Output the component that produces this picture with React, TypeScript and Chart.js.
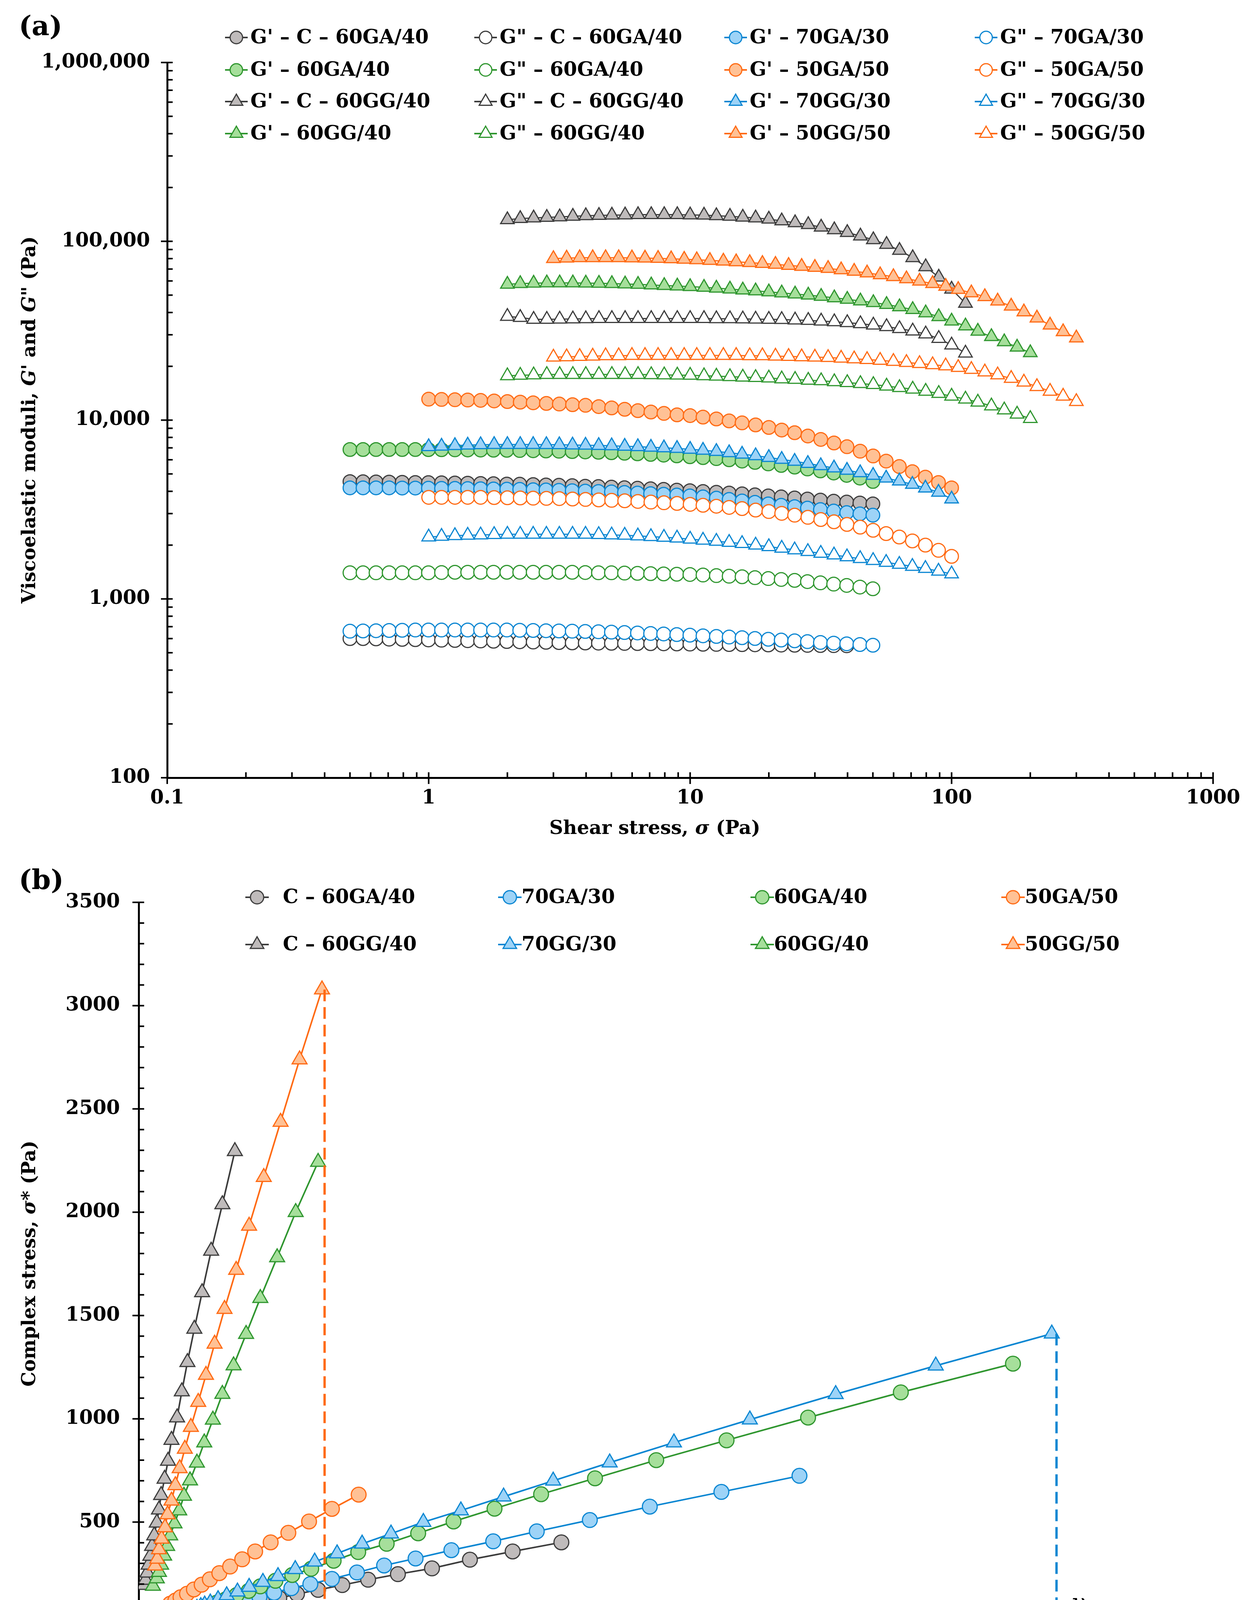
import React, { useEffect, useRef } from 'react';
import { Chart, registerables } from 'chart.js';

Chart.register(...registerables);

// ================= (a) Stress sweep: G' and G'' vs shear stress =================
const STRESS_05 = [0.5, 0.561, 0.629, 0.706, 0.792, 0.889, 0.998, 1.12, 1.26, 1.41, 1.58, 1.77, 1.99, 2.23, 2.51, 2.81, 3.15, 3.54, 3.97, 4.46, 5.0, 5.61, 6.29, 7.06, 7.92, 8.89, 9.98, 11.2, 12.6, 14.1, 15.8, 17.7, 19.9, 22.3, 25.1, 28.1, 31.5, 35.4, 39.7, 44.6, 50.0];
const STRESS_1 = [1, 1.12, 1.26, 1.41, 1.58, 1.78, 2.0, 2.24, 2.51, 2.82, 3.16, 3.55, 3.98, 4.47, 5.01, 5.62, 6.31, 7.08, 7.94, 8.91, 10, 11.2, 12.6, 14.1, 15.8, 17.8, 20.0, 22.4, 25.1, 28.2, 31.6, 35.5, 39.8, 44.7, 50.1, 56.2, 63.1, 70.8, 79.4, 89.1, 100];
const STRESS_2 = [2, 2.24, 2.52, 2.83, 3.17, 3.56, 3.99, 4.48, 5.02, 5.64, 6.32, 7.10, 7.96, 8.93, 10.0, 11.3, 12.6, 14.2, 15.9, 17.8, 20.0, 22.4, 25.2, 28.3, 31.7, 35.6, 39.9, 44.8, 50.2, 56.4, 63.2, 71.0, 79.6, 89.3, 100, 113, 126, 142, 159, 178, 200];
const STRESS_3 = [3, 3.37, 3.78, 4.24, 4.75, 5.33, 5.99, 6.72, 7.54, 8.46, 9.49, 10.6, 11.9, 13.4, 15.0, 16.9, 18.9, 21.2, 23.8, 26.7, 30.0, 33.7, 37.8, 42.4, 47.5, 53.3, 59.9, 67.2, 75.4, 84.6, 94.9, 106, 119, 134, 150, 169, 189, 212, 238, 267, 300];

const G1_C60GA40 = [4530, 4520, 4510, 4500, 4490, 4480, 4470, 4460, 4450, 4440, 4420, 4410, 4390, 4380, 4360, 4340, 4320, 4300, 4270, 4250, 4220, 4190, 4160, 4130, 4100, 4060, 4030, 3990, 3950, 3910, 3870, 3820, 3770, 3720, 3670, 3620, 3570, 3520, 3480, 3440, 3400];
const G2_C60GA40 = [600, 600, 598, 596, 594, 592, 590, 588, 586, 584, 582, 580, 578, 576, 574, 572, 570, 568, 567, 566, 565, 564, 563, 562, 561, 560, 559, 558, 557, 556, 555, 554, 553, 552, 551, 550, 549, 548, 547];
const G1_70GA30 = [4180, 4180, 4180, 4180, 4170, 4170, 4160, 4150, 4150, 4140, 4130, 4120, 4110, 4100, 4080, 4070, 4050, 4030, 4010, 3990, 3970, 3940, 3910, 3880, 3850, 3810, 3770, 3720, 3660, 3600, 3530, 3470, 3400, 3340, 3280, 3220, 3160, 3100, 3040, 2990, 2940];
const G2_70GA30 = [660, 662, 664, 666, 668, 670, 670, 670, 670, 670, 670, 670, 670, 668, 666, 664, 662, 660, 658, 655, 652, 649, 645, 641, 637, 632, 627, 622, 617, 612, 607, 601, 595, 589, 583, 577, 571, 566, 561, 556, 551];
const G1_60GA40 = [6850, 6850, 6850, 6850, 6850, 6850, 6840, 6830, 6820, 6810, 6800, 6790, 6780, 6760, 6740, 6720, 6700, 6670, 6640, 6610, 6570, 6530, 6480, 6430, 6370, 6310, 6240, 6170, 6090, 6000, 5900, 5800, 5690, 5580, 5460, 5330, 5200, 5060, 4910, 4740, 4540];
const G2_60GA40 = [1400, 1400, 1400, 1400, 1400, 1400, 1400, 1405, 1410, 1410, 1410, 1410, 1410, 1410, 1410, 1410, 1410, 1410, 1405, 1400, 1400, 1395, 1390, 1385, 1380, 1375, 1370, 1360, 1350, 1340, 1330, 1315, 1300, 1285, 1270, 1250, 1230, 1210, 1190, 1165, 1140];
const G1_50GA50 = [13100, 13050, 13000, 12950, 12900, 12800, 12700, 12600, 12500, 12400, 12300, 12200, 12100, 11900, 11700, 11500, 11300, 11100, 10900, 10700, 10600, 10400, 10150, 9900, 9650, 9400, 9100, 8800, 8500, 8150, 7800, 7450, 7100, 6700, 6300, 5900, 5500, 5150, 4800, 4480, 4180];
const G2_50GA50 = [3700, 3700, 3700, 3700, 3700, 3690, 3680, 3670, 3660, 3650, 3640, 3620, 3600, 3580, 3560, 3540, 3510, 3480, 3450, 3420, 3380, 3340, 3300, 3250, 3200, 3140, 3080, 3010, 2940, 2860, 2780, 2700, 2610, 2520, 2420, 2320, 2220, 2110, 2000, 1870, 1730];
const G1_C60GG40 = [132000, 134000, 135000, 136000, 137000, 138000, 139000, 139500, 140000, 140500, 141000, 141000, 141000, 141000, 140500, 140000, 139000, 138000, 136500, 135000, 133000, 130000, 127000, 124000, 120000, 116000, 112000, 107000, 102000, 96000, 89000, 81000, 72000, 63000, 54000, 45000];
const G2_C60GG40 = [38000, 37500, 36600, 36600, 36700, 36800, 36900, 37000, 37000, 37000, 37000, 37000, 37000, 37000, 37000, 37000, 36900, 36900, 36800, 36700, 36600, 36500, 36300, 36100, 35800, 35500, 35100, 34600, 34000, 33300, 32500, 31500, 30300, 28600, 26300, 23700];
const G1_70GG30 = [7100, 7150, 7200, 7250, 7280, 7300, 7300, 7300, 7300, 7290, 7280, 7260, 7240, 7210, 7180, 7140, 7100, 7050, 7000, 6940, 6870, 6780, 6680, 6570, 6450, 6320, 6180, 6030, 5880, 5720, 5560, 5400, 5240, 5080, 4910, 4740, 4560, 4370, 4170, 3950, 3620];
const G2_70GG30 = [2220, 2240, 2260, 2270, 2280, 2290, 2300, 2300, 2300, 2300, 2300, 2300, 2300, 2290, 2280, 2270, 2250, 2230, 2210, 2190, 2160, 2130, 2100, 2070, 2040, 2000, 1960, 1920, 1880, 1840, 1800, 1760, 1720, 1680, 1640, 1600, 1560, 1520, 1480, 1430, 1380];
const G1_60GG40 = [57500, 58000, 58300, 58500, 58500, 58500, 58400, 58200, 58000, 57700, 57400, 57000, 56600, 56200, 55800, 55300, 54700, 54100, 53400, 52800, 52100, 51400, 50700, 50000, 49200, 48300, 47400, 46400, 45400, 44300, 43000, 41500, 39800, 37900, 35800, 33600, 31400, 29300, 27400, 25600, 23800];
const G2_60GG40 = [17700, 17800, 17900, 18000, 18000, 18000, 18000, 18000, 18000, 18000, 18000, 17950, 17900, 17850, 17800, 17700, 17600, 17500, 17400, 17300, 17200, 17000, 16900, 16700, 16600, 16400, 16200, 16000, 15800, 15500, 15200, 14900, 14500, 14100, 13600, 13100, 12600, 12000, 11400, 10800, 10200];
const G1_50GG50 = [80000, 80500, 81000, 81000, 81000, 81000, 80800, 80500, 80200, 79800, 79300, 78800, 78200, 77500, 76800, 76000, 75200, 74300, 73300, 72400, 71500, 70500, 69300, 68000, 66500, 65000, 63400, 61700, 59900, 58000, 56000, 53800, 51500, 49000, 46300, 43400, 40300, 37200, 34000, 31200, 28800];
const G2_50GG50 = [22500, 22600, 22700, 22800, 22900, 22900, 23000, 23000, 23000, 23000, 23000, 23000, 23000, 23000, 23000, 22900, 22900, 22800, 22700, 22600, 22500, 22400, 22200, 22000, 21800, 21600, 21300, 21000, 20700, 20400, 20100, 19700, 19200, 18600, 17900, 17100, 16300, 15400, 14500, 13600, 12700];

const A_X_TICKS = [0.1, 1, 10, 100, 1000];
const A_X_LABELS = ['0.1', '1', '10', '100', '1000'];
const A_Y_TICKS = [100, 1000, 10000, 100000, 1000000];
const A_Y_LABELS = ['100', '1,000', '10,000', '100,000', '1,000,000'];

// ================= (b) Complex stress vs strain =================
const STRAIN_C60GA40 = [0.0107, 0.0121, 0.0137, 0.0156, 0.0176, 0.0199, 0.0225, 0.0255, 0.0287, 0.0326, 0.0367, 0.0416, 0.0472, 0.0532, 0.0601, 0.0680, 0.0768, 0.0867, 0.0980];
const SIGMA_C60GA40 = [27, 34, 40, 49, 59, 72, 84, 100, 113, 132, 152, 172, 195, 221, 248, 276, 318, 358, 402];
const STRAIN_70GA30 = [0.0098, 0.0112, 0.0128, 0.0144, 0.0160, 0.0179, 0.0199, 0.0222, 0.0248, 0.0280, 0.0314, 0.0354, 0.0398, 0.0448, 0.0506, 0.0569, 0.0642, 0.0725, 0.0822, 0.0923, 0.1046, 0.1185, 0.1351, 0.1532];
const SIGMA_70GA30 = [28, 37, 47, 56, 66, 79, 91, 104, 120, 137, 158, 180, 200, 225, 256, 290, 324, 364, 407, 455, 510, 575, 646, 724];
const STRAIN_60GA40 = [0.0072, 0.0089, 0.0107, 0.0126, 0.0144, 0.0162, 0.0181, 0.0202, 0.0227, 0.0255, 0.0282, 0.0317, 0.0356, 0.0400, 0.0452, 0.0509, 0.0575, 0.0648, 0.0730, 0.0825, 0.0933, 0.1058, 0.1200, 0.1363, 0.1552, 0.1767, 0.2027];
const SIGMA_60GA40 = [46, 50, 56, 66, 78, 92, 110, 126, 147, 167, 189, 216, 244, 274, 313, 355, 395, 446, 503, 565, 635, 712, 800, 896, 1006, 1128, 1267];
const STRAIN_50GA50 = [0.0073, 0.0085, 0.0097, 0.0112, 0.0128, 0.0146, 0.0165, 0.0187, 0.0212, 0.0240, 0.0270, 0.0306, 0.0347, 0.0395, 0.0448, 0.0510];
const SIGMA_50GA50 = [105, 120, 136, 153, 174, 197, 223, 253, 285, 320, 358, 402, 448, 503, 564, 633];
const STRAIN_C60GG40 = [0.0012, 0.0016, 0.0020, 0.0023, 0.0027, 0.0031, 0.0036, 0.0042, 0.0047, 0.0052, 0.0060, 0.0068, 0.0076, 0.0089, 0.0100, 0.0113, 0.0129, 0.0147, 0.0168, 0.0194, 0.0223];
const SIGMA_C60GG40 = [195, 220, 255, 293, 336, 384, 435, 497, 560, 630, 709, 796, 897, 1006, 1132, 1274, 1435, 1612, 1813, 2038, 2295];
const STRAIN_70GG30 = [0.0135, 0.0144, 0.0153, 0.0166, 0.0184, 0.0204, 0.0229, 0.0256, 0.0288, 0.0323, 0.0363, 0.0408, 0.0460, 0.0518, 0.0585, 0.0660, 0.0747, 0.0846, 0.0961, 0.1092, 0.1241, 0.1417, 0.1616, 0.1848, 0.2117];
const SIGMA_70GG30 = [84, 92, 100, 110, 126, 145, 163, 186, 210, 238, 272, 308, 348, 395, 444, 500, 556, 623, 700, 788, 885, 996, 1119, 1257, 1412];
const STRAIN_60GG40 = [0.0033, 0.0042, 0.0047, 0.0052, 0.0059, 0.0066, 0.0073, 0.0083, 0.0094, 0.0105, 0.0119, 0.0135, 0.0152, 0.0172, 0.0194, 0.0220, 0.0249, 0.0282, 0.0321, 0.0364, 0.0416];
const SIGMA_60GG40 = [191, 227, 258, 293, 337, 384, 435, 493, 556, 627, 701, 787, 885, 995, 1120, 1258, 1410, 1584, 1781, 2000, 2243];
const STRAIN_50GG50 = [0.0038, 0.0043, 0.0047, 0.0053, 0.0061, 0.0067, 0.0076, 0.0085, 0.0095, 0.0107, 0.0121, 0.0138, 0.0156, 0.0176, 0.0199, 0.0226, 0.0256, 0.0290, 0.0329, 0.0373, 0.0425];
const SIGMA_50GG50 = [289, 322, 368, 419, 474, 537, 603, 678, 760, 854, 960, 1081, 1212, 1363, 1531, 1720, 1934, 2170, 2437, 2739, 3078];

// yield markers (dashed drop lines): strain, top stress
const YIELD_STRAIN = [0.0431, 0.2128];
const YIELD_TOP = [3078, 1412];

const B_X_TICKS = [0, 0.05, 0.1, 0.15, 0.2, 0.25];
const B_Y_TICKS = [0, 500, 1000, 1500, 2000, 2500, 3000, 3500];

// ================= styling =================
const SERIF = '"DejaVu Serif"';
const GRAY = { line: '#3c3c3c', fill: '#bfbbbb' };
const BLUE = { line: '#0a86d2', fill: '#9dd3f7' };
const GREEN = { line: '#2f962f', fill: '#a6df9b' };
const ORANGE = { line: '#ff6a13', fill: '#ffc195' };

const A_SERIES = [
  { label: "G' – C – 60GA/40", x: STRESS_05, y: G1_C60GA40, c: GRAY, shape: 'circle', open: false },
  { label: 'G" – C – 60GA/40', x: STRESS_05, y: G2_C60GA40, c: GRAY, shape: 'circle', open: true },
  { label: "G' – 70GA/30", x: STRESS_05, y: G1_70GA30, c: BLUE, shape: 'circle', open: false },
  { label: 'G" – 70GA/30', x: STRESS_05, y: G2_70GA30, c: BLUE, shape: 'circle', open: true },
  { label: "G' – 60GA/40", x: STRESS_05, y: G1_60GA40, c: GREEN, shape: 'circle', open: false },
  { label: 'G" – 60GA/40', x: STRESS_05, y: G2_60GA40, c: GREEN, shape: 'circle', open: true },
  { label: "G' – 50GA/50", x: STRESS_1, y: G1_50GA50, c: ORANGE, shape: 'circle', open: false },
  { label: 'G" – 50GA/50', x: STRESS_1, y: G2_50GA50, c: ORANGE, shape: 'circle', open: true },
  { label: "G' – C – 60GG/40", x: STRESS_2, y: G1_C60GG40, c: GRAY, shape: 'triangle', open: false },
  { label: 'G" – C – 60GG/40', x: STRESS_2, y: G2_C60GG40, c: GRAY, shape: 'triangle', open: true },
  { label: "G' – 70GG/30", x: STRESS_1, y: G1_70GG30, c: BLUE, shape: 'triangle', open: false },
  { label: 'G" – 70GG/30', x: STRESS_1, y: G2_70GG30, c: BLUE, shape: 'triangle', open: true },
  { label: "G' – 60GG/40", x: STRESS_2, y: G1_60GG40, c: GREEN, shape: 'triangle', open: false },
  { label: 'G" – 60GG/40', x: STRESS_2, y: G2_60GG40, c: GREEN, shape: 'triangle', open: true },
  { label: "G' – 50GG/50", x: STRESS_3, y: G1_50GG50, c: ORANGE, shape: 'triangle', open: false },
  { label: 'G" – 50GG/50', x: STRESS_3, y: G2_50GG50, c: ORANGE, shape: 'triangle', open: true },
];

const B_SERIES = [
  { label: 'C – 60GA/40', x: STRAIN_C60GA40, y: SIGMA_C60GA40, c: GRAY, shape: 'circle' },
  { label: '70GA/30', x: STRAIN_70GA30, y: SIGMA_70GA30, c: BLUE, shape: 'circle' },
  { label: '60GA/40', x: STRAIN_60GA40, y: SIGMA_60GA40, c: GREEN, shape: 'circle' },
  { label: '50GA/50', x: STRAIN_50GA50, y: SIGMA_50GA50, c: ORANGE, shape: 'circle' },
  { label: 'C – 60GG/40', x: STRAIN_C60GG40, y: SIGMA_C60GG40, c: GRAY, shape: 'triangle' },
  { label: '70GG/30', x: STRAIN_70GG30, y: SIGMA_70GG30, c: BLUE, shape: 'triangle' },
  { label: '60GG/40', x: STRAIN_60GG40, y: SIGMA_60GG40, c: GREEN, shape: 'triangle' },
  { label: '50GG/50', x: STRAIN_50GG50, y: SIGMA_50GG50, c: ORANGE, shape: 'triangle' },
];
const YIELD_COLORS = [ORANGE.line, BLUE.line];

// layout (canvas px)
const W = 3197;
const A_H = 2180;
const B_H = 2211;
const TICK_FONT = { family: 'DejaVu Serif', size: 50, weight: 'bold' };
const TITLE_SIZE = 49;

// ================= drawing helpers =================
function drawMarker(ctx, shape, x, y, r, fill, stroke, bw) {
  ctx.beginPath();
  if (shape === 'circle') {
    ctx.arc(x, y, r, 0, Math.PI * 2);
  } else {
    for (let k = 0; k < 3; k++) {
      const a = (k * 2 * Math.PI) / 3;
      const px = x + Math.sin(a) * r;
      const py = y - Math.cos(a) * r;
      if (k === 0) ctx.moveTo(px, py);
      else ctx.lineTo(px, py);
    }
    ctx.closePath();
  }
  ctx.fillStyle = fill;
  ctx.fill();
  ctx.lineWidth = bw;
  ctx.strokeStyle = stroke;
  ctx.stroke();
}

function drawRich(ctx, parts, x, y, size, rotate) {
  ctx.save();
  ctx.translate(x, y);
  if (rotate) ctx.rotate(-Math.PI / 2);
  ctx.textBaseline = 'middle';
  ctx.textAlign = 'left';
  ctx.fillStyle = '#000';
  const fonts = parts.map((p) => `${p.i ? 'italic ' : ''}bold ${size}px ${SERIF}`);
  const widths = parts.map((p, k) => {
    ctx.font = fonts[k];
    return ctx.measureText(p.t).width;
  });
  const total = widths.reduce((s, w) => s + w, 0);
  let cx = -total / 2;
  parts.forEach((p, k) => {
    ctx.font = fonts[k];
    ctx.fillText(p.t, cx, 0);
    cx += widths[k];
  });
  ctx.restore();
}

function drawAxisTicks(chart, xMajor, xMinor, yMajor, yMinor) {
  const { ctx, chartArea: a, scales } = chart;
  const L = 14;
  ctx.save();
  ctx.strokeStyle = '#000';
  ctx.lineWidth = 4;
  ctx.beginPath();
  xMajor.forEach((v) => {
    const p = scales.x.getPixelForValue(v);
    ctx.moveTo(p, a.bottom + L + 2);
    ctx.lineTo(p, a.bottom - L);
  });
  xMinor.forEach((v) => {
    const p = scales.x.getPixelForValue(v);
    ctx.moveTo(p, a.bottom);
    ctx.lineTo(p, a.bottom - L);
  });
  yMajor.forEach((v) => {
    const p = scales.y.getPixelForValue(v);
    ctx.moveTo(a.left - L - 2, p);
    ctx.lineTo(a.left + L, p);
  });
  yMinor.forEach((v) => {
    const p = scales.y.getPixelForValue(v);
    ctx.moveTo(a.left, p);
    ctx.lineTo(a.left + L, p);
  });
  ctx.stroke();
  ctx.restore();
}

function drawLegendItem(ctx, s, cx, cy, half, textX, r, open, fontSize) {
  ctx.save();
  ctx.strokeStyle = s.c.line;
  ctx.lineWidth = 4;
  ctx.beginPath();
  ctx.moveTo(cx - half, cy);
  ctx.lineTo(cx + half, cy);
  ctx.stroke();
  drawMarker(ctx, s.shape, cx, cy, r, open ? '#ffffff' : s.c.fill, s.c.line, 3);
  ctx.fillStyle = '#000';
  ctx.font = `bold ${fontSize}px ${SERIF}`;
  ctx.textBaseline = 'middle';
  ctx.textAlign = 'left';
  ctx.fillText(s.label, textX, cy + 2);
  ctx.restore();
}

// minor tick values
const A_X_MINOR: number[] = [];
[0.1, 1, 10, 100].forEach((d) => { for (let m = 2; m <= 9; m++) A_X_MINOR.push(d * m); });
const A_Y_MINOR: number[] = [];
[100, 1000, 10000, 100000].forEach((d) => { for (let m = 2; m <= 9; m++) A_Y_MINOR.push(d * m); });
const B_X_MINOR: number[] = [];
for (let k = 1; k < 25; k++) if (k % 5 !== 0) B_X_MINOR.push(k / 100);
const B_Y_MINOR: number[] = [];
for (let k = 1; k < 35; k++) if (k % 5 !== 0) B_Y_MINOR.push(k * 100);

const A_LEG_COLS = [605, 1243, 1883, 2524];
const A_LEG_ROWS = [96, 179, 260, 342];
const B_LEG_COLS = [658, 1305, 1951, 2593];
const B_LEG_GAP = [66, 30, 30, 30];
const B_LEG_ROWS = [117, 238];

const panelAPlugin = {
  id: 'panelA',
  afterDraw(chart) {
    const { ctx } = chart;
    drawAxisTicks(chart, A_X_TICKS, A_X_MINOR, A_Y_TICKS, A_Y_MINOR);
    A_SERIES.forEach((s, k) => {
      const cx = A_LEG_COLS[k % 4];
      const cy = A_LEG_ROWS[Math.floor(k / 4)];
      drawLegendItem(ctx, s, cx, cy, 29, cx + 36, s.shape === 'circle' ? 16 : 19, s.open, 50);
    });
    drawRich(ctx, [{ t: 'Shear stress, ' }, { t: 'σ', i: true }, { t: ' (Pa)' }], 1676, 2122, TITLE_SIZE, false);
    drawRich(ctx, [{ t: 'Viscoelastic moduli, ' }, { t: "G'", i: true }, { t: ' and ' }, { t: 'G"', i: true }, { t: ' (Pa)' }], 78, 1075, TITLE_SIZE - 1, true);
    ctx.save();
    ctx.fillStyle = '#000';
    ctx.font = `bold 70px ${SERIF}`;
    ctx.textBaseline = 'middle';
    ctx.textAlign = 'left';
    ctx.fillText('(a)', 48, 72);
    ctx.restore();
  },
};

const panelBPlugin = {
  id: 'panelB',
  afterDraw(chart) {
    const { ctx, scales, chartArea } = chart;
    drawAxisTicks(chart, B_X_TICKS, B_X_MINOR, B_Y_TICKS, B_Y_MINOR);
    // arrow heads at the foot of the dashed drop lines
    YIELD_STRAIN.forEach((sx, k) => {
      const px = scales.x.getPixelForValue(sx);
      const py = scales.y.getPixelForValue(0);
      ctx.save();
      ctx.fillStyle = YIELD_COLORS[k];
      ctx.beginPath();
      ctx.moveTo(px, py);
      ctx.lineTo(px - 9, py - 20);
      ctx.lineTo(px + 9, py - 20);
      ctx.closePath();
      ctx.fill();
      ctx.restore();
    });
    // gamma max label
    const gx = scales.x.getPixelForValue(YIELD_STRAIN[1]) + 36;
    const gy = chartArea.bottom;
    ctx.save();
    ctx.fillStyle = '#000';
    ctx.textAlign = 'left';
    ctx.textBaseline = 'alphabetic';
    ctx.font = `italic 60px ${SERIF}`;
    ctx.fillText('γ', gx, gy - 38);
    const gw = ctx.measureText('γ').width;
    ctx.font = '40px "Open Sans"';
    ctx.fillText('max', gx + gw + 2, gy - 28);
    ctx.restore();
    // legend
    B_SERIES.forEach((s, k) => {
      const col = k % 4;
      const cx = B_LEG_COLS[col];
      const cy = B_LEG_ROWS[Math.floor(k / 4)];
      drawLegendItem(ctx, s, cx, cy, 30, cx + B_LEG_GAP[col], s.shape === 'circle' ? 17 : 20, false, 50);
    });
    drawRich(ctx, [{ t: 'Strain, ' }, { t: 'γ', i: true }, { t: ' (%)' }], 1750, 2154, TITLE_SIZE, false);
    drawRich(ctx, [{ t: 'Complex stress, ' }, { t: 'σ*', i: true }, { t: ' (Pa)' }], 78, 1055, TITLE_SIZE - 1, true);
    ctx.save();
    ctx.fillStyle = '#000';
    ctx.font = `bold 70px ${SERIF}`;
    ctx.textBaseline = 'middle';
    ctx.textAlign = 'left';
    ctx.fillText('(b)', 48, 78);
    ctx.restore();
  },
};

function baseAxis(extra) {
  return {
    grid: { display: false, drawTicks: false },
    border: { display: true, color: '#000', width: 5 },
    title: { display: false },
    ...extra,
  };
}

function makeChartA(canvas) {
  const n = A_SERIES.length;
  return new Chart(canvas, {
    type: 'scatter',
    data: {
      datasets: A_SERIES.map((s, k) => ({
        label: s.label,
        data: s.y.map((v, i) => ({ x: s.x[i], y: v })),
        showLine: true,
        borderColor: s.c.line,
        borderWidth: 3,
        pointStyle: s.shape,
        pointRadius: s.shape === 'circle' ? 17.5 : 20,
        pointBackgroundColor: s.open ? '#ffffff' : s.c.fill,
        pointBorderColor: s.c.line,
        pointBorderWidth: 3,
        order: n - k,
      })),
    },
    options: {
      responsive: false,
      animation: false,
      devicePixelRatio: 1,
      events: [],
      layout: { padding: { left: 0, top: 160, right: 92, bottom: 0 } },
      plugins: { legend: { display: false }, tooltip: { enabled: false }, title: { display: false } },
      scales: {
        x: baseAxis({
          type: 'logarithmic',
          position: 'bottom',
          min: 0.1,
          max: 1000,
          ticks: {
            color: '#000', font: TICK_FONT, padding: 23, autoSkip: false, maxRotation: 0,
            callback: (v) => { const i = A_X_TICKS.indexOf(Number(v)); return i >= 0 ? A_X_LABELS[i] : ''; },
          },
          afterBuildTicks: (s) => { s.ticks = A_X_TICKS.map((v) => ({ value: v })); },
          afterFit: (s) => { s.height = A_H - 1991; s.paddingLeft = 0; s.paddingRight = 0; },
        }),
        y: baseAxis({
          type: 'logarithmic',
          position: 'left',
          min: 100,
          max: 1000000,
          ticks: {
            color: '#000', font: TICK_FONT, padding: 44, autoSkip: false,
            callback: (v) => { const i = A_Y_TICKS.indexOf(Number(v)); return i >= 0 ? A_Y_LABELS[i] : ''; },
          },
          afterBuildTicks: (s) => { s.ticks = A_Y_TICKS.map((v) => ({ value: v })); },
          afterFit: (s) => { s.width = 428; s.paddingTop = 0; s.paddingBottom = 0; },
        }),
      },
    },
    plugins: [panelAPlugin],
  });
}

function makeChartB(canvas) {
  const n = B_SERIES.length;
  const series = B_SERIES.map((s, k) => ({
    label: s.label,
    data: s.y.map((v, i) => ({ x: s.x[i], y: v })),
    showLine: true,
    borderColor: s.c.line,
    borderWidth: 4,
    pointStyle: s.shape,
    pointRadius: s.shape === 'circle' ? 19 : 22,
    pointBackgroundColor: s.c.fill,
    pointBorderColor: s.c.line,
    pointBorderWidth: 3,
    order: n - k + 1,
  }));
  const drops = YIELD_STRAIN.map((sx, k) => ({
    label: 'yield ' + k,
    data: [{ x: sx, y: YIELD_TOP[k] }, { x: sx, y: 0 }],
    showLine: true,
    borderColor: YIELD_COLORS[k],
    borderWidth: 6,
    borderDash: [30, 15],
    pointRadius: 0,
    order: 0,
  }));
  return new Chart(canvas, {
    type: 'scatter',
    data: { datasets: [...series, ...drops] },
    options: {
      responsive: false,
      animation: false,
      devicePixelRatio: 1,
      events: [],
      layout: { padding: { left: 0, top: 130, right: 82, bottom: 0 } },
      plugins: { legend: { display: false }, tooltip: { enabled: false }, title: { display: false } },
      scales: {
        x: baseAxis({
          type: 'linear',
          position: 'bottom',
          min: 0,
          max: 0.25,
          ticks: {
            color: '#000', font: TICK_FONT, padding: 45, autoSkip: false, maxRotation: 0,
            callback: (v) => Number(v).toFixed(3),
          },
          afterBuildTicks: (s) => { s.ticks = B_X_TICKS.map((v) => ({ value: v })); },
          afterFit: (s) => { s.height = B_H - 1981; s.paddingLeft = 0; s.paddingRight = 0; },
        }),
        y: baseAxis({
          type: 'linear',
          position: 'left',
          min: 0,
          max: 3500,
          ticks: {
            color: '#000', font: TICK_FONT, padding: 48, autoSkip: false,
            callback: (v) => String(v),
          },
          afterBuildTicks: (s) => { s.ticks = B_Y_TICKS.map((v) => ({ value: v })); },
          afterFit: (s) => { s.width = 355; s.paddingTop = 0; s.paddingBottom = 0; },
        }),
      },
    },
    plugins: [panelBPlugin],
  });
}

export default function App() {
  const refA = useRef<HTMLCanvasElement>(null);
  const refB = useRef<HTMLCanvasElement>(null);
  useEffect(() => {
    document.body.style.margin = '0';
    const a = makeChartA(refA.current);
    const b = makeChartB(refB.current);
    return () => {
      a.destroy();
      b.destroy();
    };
  }, []);
  return (
    <div style={{ width: W, background: '#ffffff' }}>
      <canvas ref={refA} width={W} height={A_H} style={{ display: 'block' }} />
      <canvas ref={refB} width={W} height={B_H} style={{ display: 'block' }} />
    </div>
  );
}
